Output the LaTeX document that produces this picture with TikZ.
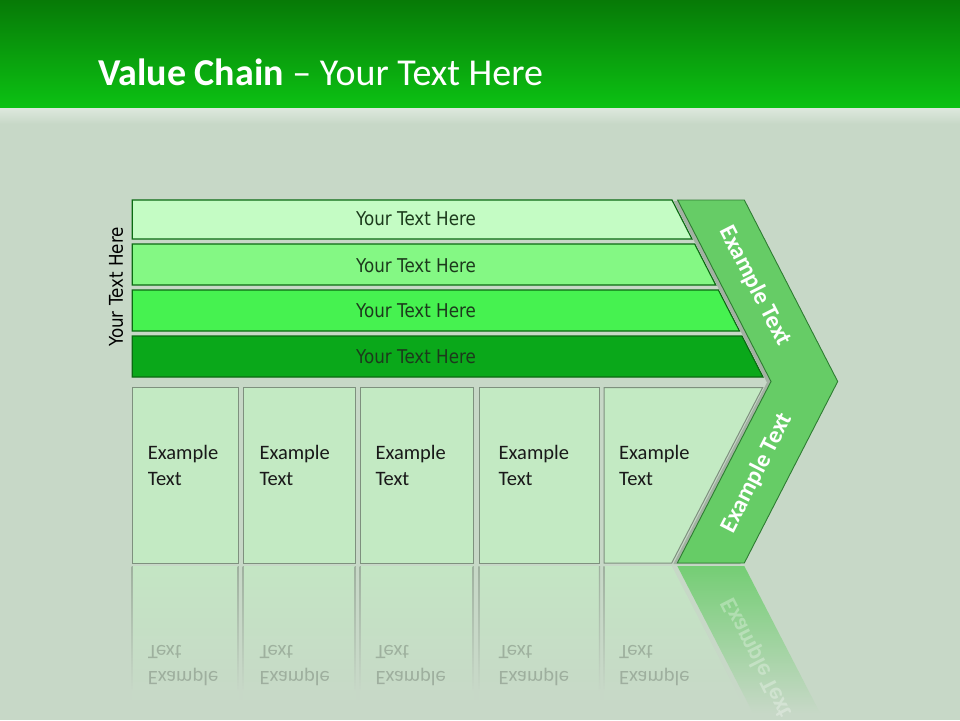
\documentclass[tikz,border=0pt]{standalone}
\usepackage{fontspec}
\setmainfont{Carlito}
\newfontfamily\barfont[FakeStretch=0.88]{DejaVu Sans}
\definecolor{bg}{HTML}{C7D8C7}
\definecolor{hdtop}{HTML}{077A07}
\definecolor{hdbot}{HTML}{0CC213}
\definecolor{barA}{HTML}{C4FCC4}
\definecolor{barB}{HTML}{84F884}
\definecolor{barC}{HTML}{46F250}
\definecolor{barD}{HTML}{0AA81A}
\definecolor{barline}{HTML}{0B6A12}
\definecolor{bartext}{HTML}{1C3A1C}
\definecolor{boxfill}{HTML}{C3EAC3}
\definecolor{boxline}{HTML}{7E907E}
\definecolor{chev}{HTML}{66CC66}
\definecolor{chevline}{HTML}{2E7D32}
\tikzset{
  barshape/.style={draw=barline, line width=1.2pt},
  bartxt/.style={font=\barfont\fontsize{19}{22}\selectfont, text=bartext, inner sep=0},
  boxshape/.style={fill=boxfill, draw=boxline, line width=1pt},
  boxtxt/.style={font=\fontsize{20.5}{26}\selectfont, align=left, anchor=base west, inner sep=0, text=black!90},
  reftxt/.style={boxtxt, yscale=-1, text=black, text opacity=0.2},
  chevtxt/.style={font=\bfseries\fontsize{24}{28}\selectfont, text=white, inner sep=0},
}
\begin{document}
\begin{tikzpicture}[x=1pt,y=-1pt]
\useasboundingbox (0,0) rectangle (960,720);
% background and header
\fill[bg] (0,0) rectangle (960,720);
\shade[top color=hdtop, bottom color=hdbot] (0,0) rectangle (960,108);
\shade[top color=white!40!bg, bottom color=bg] (0,108) rectangle (960,124);
\node[anchor=base west, text=white, font=\fontsize{38}{44}\selectfont, inner sep=0] (title) at (98,85) {\textbf{Value Chain} – Your Text Here};

% vertical label
\node[bartxt, text=black, rotate=90] (side) at (116,287) {Your Text Here};

% bars
\filldraw[barshape, fill=barA] (132.3,200) -- (672,200) -- (692,239) -- (132.3,239) -- cycle;
\filldraw[barshape, fill=barB] (132.3,244) -- (694.7,244) -- (715.8,285) -- (132.3,285) -- cycle;
\filldraw[barshape, fill=barC] (132.3,290) -- (718.4,290) -- (739.5,331) -- (132.3,331) -- cycle;
\filldraw[barshape, fill=barD] (132.3,336) -- (742,336) -- (763,377) -- (132.3,377) -- cycle;
\node[bartxt] (t1) at (416,219) {Your Text Here};
\node[bartxt] (t2) at (416,266) {Your Text Here};
\node[bartxt] (t3) at (416,311) {Your Text Here};
\node[bartxt] (t4) at (416,356.5) {Your Text Here};

% reflections
\foreach \l/\r in {132.3/238.3, 243.3/355.3, 360.3/473.3, 479/599.5}{
  \shade[top color=boxfill!75!bg, bottom color=bg] (\l,566) rectangle (\r,705);
  \shade[top color=boxline!55!bg, bottom color=bg] (\l-0.6,566) rectangle (\l+0.6,690);
  \shade[top color=boxline!55!bg, bottom color=bg] (\r-0.6,566) rectangle (\r+0.6,690);
}
\shade[top color=boxfill!75!bg, bottom color=bg] (604,566) -- (671.7,566) -- (743.2,705) -- (604,705) -- cycle;
\shade[top color=boxline!55!bg, bottom color=bg] (603.4,566) rectangle (604.6,690);
\shade[top color=chev!85!bg, bottom color=bg] (677.3,566) -- (744.3,566) -- (820,713) -- (753,713) -- cycle;
\foreach \x/\n in {147.7/r1, 259.3/r2, 375.3/r3, 498.5/r4, 619/r5}{
  \node[reftxt] (\n) at (\x,645) {Example\\Text};
}
\node[chevtxt, rotate=-63, yscale=-1, text opacity=0.3] (rc) at (757,658) {Example Text};

% boxes
\filldraw[boxshape] (132.3,387.5) rectangle (238.3,563);
\filldraw[boxshape] (243.3,387.5) rectangle (355.3,563);
\filldraw[boxshape] (360.3,387.5) rectangle (473.3,563);
\filldraw[boxshape] (479,387.5) rectangle (599.5,563);
\filldraw[boxshape] (604,387.5) -- (762.7,387.5) -- (671.7,563) -- (604,563) -- cycle;
\node[boxtxt] (e1) at (147.7,485) {Example\\Text};
\node[boxtxt] (e2) at (259.3,485) {Example\\Text};
\node[boxtxt] (e3) at (375.3,485) {Example\\Text};
\node[boxtxt] (e4) at (498.5,485) {Example\\Text};
\node[boxtxt] (e5) at (619,485) {Example\\Text};

% chevron shadow and chevron
\fill[black!18!bg] (673.5,201) -- (740.3,201) -- (833.6,382.5) -- (740.3,564) -- (673.3,564) -- (767,382.5) -- cycle;
\filldraw[fill=chev, draw=chevline, line width=0.9pt] (677.6,200) -- (744.3,200) -- (837.7,381.5) -- (744.3,563) -- (677.3,563) -- (771,381.5) -- cycle;
\node[chevtxt, rotate=-63] (c1) at (755,286) {Example Text};
\node[chevtxt, rotate=63] (c2) at (757,473) {Example Text};
\end{tikzpicture}
\end{document}
